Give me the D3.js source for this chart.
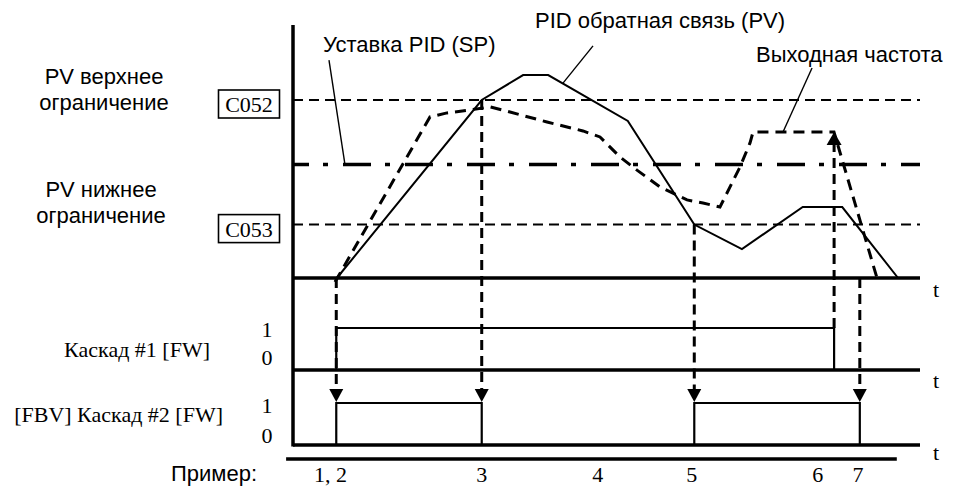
<!DOCTYPE html>
<html>
<head>
<meta charset="utf-8">
<script src="https://cdn.jsdelivr.net/npm/d3@7/dist/d3.min.js"></script>
<style>
  html, body { margin: 0; padding: 0; background: #fff; }
  svg { display: block; }
  .sans { font-family: "Liberation Sans", Arial, sans-serif; font-size: 22px; }
  .serif { font-family: "Liberation Serif", "Times New Roman", serif; font-size: 22px; }
</style>
</head>
<body>
<svg id="chart" width="953" height="489"></svg>
<script>
// Time axis runs 0..10 (arbitrary units); top panel values in % of range.
const limitHigh = 80;   // C052 - PV upper limit
const limitLow = 24;    // C053 - PV lower limit
const setpoint = 51;    // PID setpoint (SP)

// PID feedback (PV): time, value
const pvT = [0.70, 3.01, 3.67, 4.07, 5.34, 6.40, 7.16, 8.13, 8.76, 9.65];
const pvV = [0, 80, 91.2, 91.2, 70.6, 24, 13.0, 31.9, 31.9, 0];

// Output frequency: time, value
const fT = [0.67, 2.185, 2.456, 2.823, 3.142, 3.461, 4.051, 4.625, 4.896, 5.215,
            5.486, 5.853, 6.284, 6.539, 6.810, 7.129, 7.289, 7.337, 8.628, 9.314];
const fV = [-1.8, 72.4, 74.2, 75.5, 76.9, 74.6, 70.1, 66.1, 63.4, 54.4,
            48.5, 40.9, 35.1, 33.7, 31.9, 49.9, 60.7, 65.6, 65.6, 0];

// Event instants
const tEv12 = 0.69, tEv3 = 3.01, tEv5 = 6.40, tEv6 = 8.63, tEv7 = 9.04;

// Stage #1 [FW]: on/off edges
const stage1On = [[tEv12, tEv6]];
// Stage #2 [FW]: on/off edges
const stage2On = [[tEv12, tEv3], [tEv5, tEv7]];

// Example numbers along the bottom
const exampleLabels = ["1, 2", "3", "4", "5", "6", "7"];
const exampleT = [0.60, 3.01, 4.86, 6.36, 8.37, 9.01];

// Leader lines for the annotations: [t0, v0, t1, v1]
const leaderSP = [0.574, 97.9, 0.829, 51];
const leaderPV = [4.785, 104.3, 4.306, 87.6];
const leaderF = [8.278, 94.4, 7.815, 65.6];

// ---------- layout ----------
const svg = d3.select("#chart");
const x = d3.scaleLinear().domain([0, 10]).range([293, 920]);
const yTop = d3.scaleLinear().domain([0, 100]).range([278, 55.5]);
const yS1 = d3.scaleLinear().domain([0, 1]).range([370, 328]);
const yS2 = d3.scaleLinear().domain([0, 1]).range([445, 403]);
const axisTopY = 25;
const exampleY = 459;

const line = d3.line().x(d => x(d[0])).y(d => d[1]);

// Limit lines (dashed)
[limitHigh, limitLow].forEach(v => {
  svg.append("line")
    .attr("x1", x(0)).attr("x2", x(10))
    .attr("y1", yTop(v)).attr("y2", yTop(v))
    .attr("stroke", "#000").attr("stroke-width", 2)
    .attr("stroke-dasharray", "10,6");
});

// Setpoint (dash-dot)
svg.append("line")
  .attr("x1", x(0)).attr("x2", x(10))
  .attr("y1", yTop(setpoint)).attr("y2", yTop(setpoint))
  .attr("stroke", "#000").attr("stroke-width", 3.5)
  .attr("stroke-dasharray", "28,14,5,15")
  .attr("stroke-dashoffset", 12);

// Output frequency (thick dashed)
svg.append("path")
  .attr("d", line(fT.map((t, i) => [t, yTop(fV[i])])))
  .attr("fill", "none").attr("stroke", "#000").attr("stroke-width", 3)
  .attr("stroke-dasharray", "11,7");

// PV (solid)
svg.append("path")
  .attr("d", line(pvT.map((t, i) => [t, yTop(pvV[i])])))
  .attr("fill", "none").attr("stroke", "#000").attr("stroke-width", 2);

// Baselines
[yTop(0), yS1(0), yS2(0)].forEach(yb => {
  svg.append("line")
    .attr("x1", x(0)).attr("x2", x(10))
    .attr("y1", yb).attr("y2", yb)
    .attr("stroke", "#000").attr("stroke-width", 3.5);
});

// Vertical axis
svg.append("line")
  .attr("x1", x(0)).attr("x2", x(0))
  .attr("y1", axisTopY).attr("y2", yS2(0) + 1.5)
  .attr("stroke", "#000").attr("stroke-width", 3.5);

// Example row rule
svg.append("line")
  .attr("x1", x(-0.11)).attr("x2", x(9.63))
  .attr("y1", exampleY).attr("y2", exampleY)
  .attr("stroke", "#000").attr("stroke-width", 3.5);

// Stage pulses
function pulses(data, ys) {
  data.forEach(([a, b]) => {
    svg.append("path")
      .attr("d", line([[a, ys(0)], [a, ys(1)], [b, ys(1)], [b, ys(0)]]))
      .attr("fill", "none").attr("stroke", "#000").attr("stroke-width", 2.2);
  });
}
pulses(stage1On, yS1);
pulses(stage2On, yS2);

// Dashed drops from the top panel to stage #2 with down arrows
const arrowH = 13, arrowW = 14;
const drops = [[tEv12, yTop(0)], [tEv3, yTop(limitHigh)], [tEv5, yTop(limitLow)], [tEv7, yTop(0)]];
drops.forEach(([t, y0]) => {
  const tip = yS2(1) - 1;
  svg.append("line")
    .attr("x1", x(t)).attr("x2", x(t))
    .attr("y1", y0).attr("y2", tip - arrowH + 1)
    .attr("stroke", "#000").attr("stroke-width", 3)
    .attr("stroke-dasharray", "10,6");
  svg.append("path")
    .attr("d", `M${x(t) - arrowW / 2},${tip - arrowH}L${x(t) + arrowW / 2},${tip - arrowH}L${x(t)},${tip}Z`)
    .attr("fill", "#000");
});

// Stage #1 off edge pointing up to the frequency plateau
{
  const tip = yTop(65.6);
  svg.append("line")
    .attr("x1", x(tEv6)).attr("x2", x(tEv6))
    .attr("y1", yS1(1)).attr("y2", tip + arrowH - 1)
    .attr("stroke", "#000").attr("stroke-width", 3)
    .attr("stroke-dasharray", "10,6");
  svg.append("path")
    .attr("d", `M${x(tEv6) - 7.5},${tip + arrowH}L${x(tEv6) + 7.5},${tip + arrowH}L${x(tEv6)},${tip}Z`)
    .attr("fill", "#000");
}

// Leader lines
[leaderSP, leaderPV, leaderF].forEach(([t0, v0, t1, v1]) => {
  svg.append("line")
    .attr("x1", x(t0)).attr("y1", yTop(v0))
    .attr("x2", x(t1)).attr("y2", yTop(v1))
    .attr("stroke", "#000").attr("stroke-width", 1.4);
});

// Limit parameter boxes
[["C052", limitHigh], ["C053", limitLow]].forEach(([txt, v]) => {
  const cy = yTop(v) + 4;
  svg.append("rect")
    .attr("x", 218.5).attr("y", cy - 14).attr("width", 61).attr("height", 28)
    .attr("fill", "#fff").attr("stroke", "#000").attr("stroke-width", 1.6);
  svg.append("text").attr("class", "serif")
    .attr("x", 249).attr("y", cy + 8)
    .attr("text-anchor", "middle").text(txt);
});

// Sans-serif annotations
const sansText = [
  ["PV верхнее", 104, 84, "middle"],
  ["ограничение", 104, 110, "middle"],
  ["PV нижнее", 101, 197, "middle"],
  ["ограничение", 101, 223, "middle"],
  ["Уставка PID (SP)", 323, 52, "start"],
  ["PID обратная связь (PV)", 535, 28, "start"],
  ["Выходная частота", 756, 62, "start"],
  ["Пример:", 257, 481, "end"]
];
sansText.forEach(([s, tx, ty, a]) => {
  svg.append("text").attr("class", "sans")
    .attr("x", tx).attr("y", ty).attr("text-anchor", a).text(s);
});

// Serif labels
const serifText = [
  ["Каскад #1 [FW]", 210, 357, "end"],
  ["[FBV] Каскад #2 [FW]", 223, 422, "end"],
  ["1", 267, 337, "middle"],
  ["0", 267, 365, "middle"],
  ["1", 267, 413, "middle"],
  ["0", 267, 443, "middle"],
  ["t", 933, 297, "start"],
  ["t", 933, 388, "start"],
  ["t", 933, 460, "start"]
];
serifText.forEach(([s, tx, ty, a]) => {
  svg.append("text").attr("class", "serif")
    .attr("x", tx).attr("y", ty).attr("text-anchor", a).text(s);
});

// Example numbers
svg.selectAll("text.ex").data(exampleLabels).enter().append("text")
  .attr("class", "serif ex")
  .attr("x", (d, i) => x(exampleT[i])).attr("y", 482)
  .attr("text-anchor", "middle").text(d => d);
</script>
</body>
</html>
